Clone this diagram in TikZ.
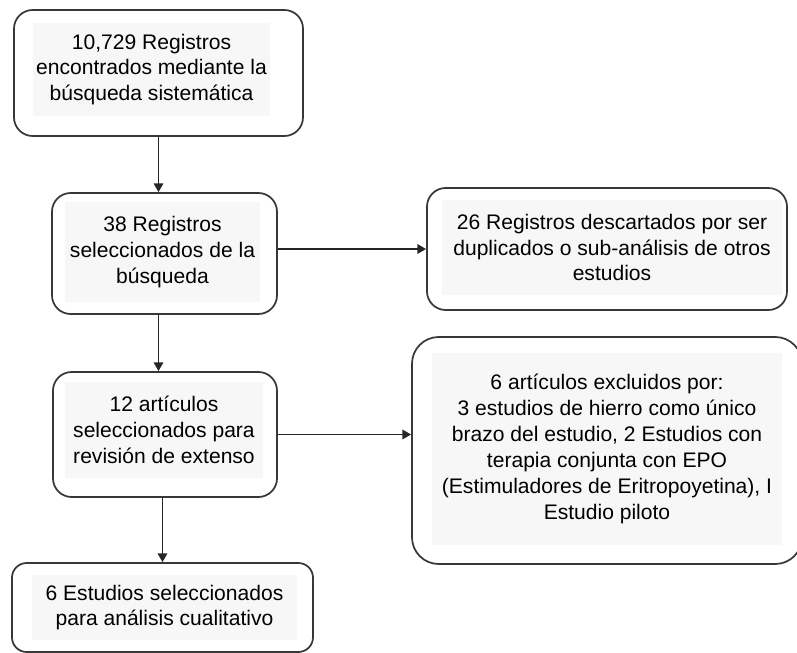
\documentclass[tikz,border=0pt]{standalone}
\usepackage{fontspec}
\setmainfont{Liberation Sans}
\usepackage{tikz}
\usetikzlibrary{arrows.meta}

\begin{document}
\begin{tikzpicture}[x=0.75pt,y=-0.75pt,
  caja/.style={draw=black!78,line width=1.3pt,rounded corners=14pt,inner sep=0pt},
  fondo/.style={fill=black!3,inner sep=0pt,align=center,font=\fontsize{15.8}{19.4}\selectfont},
  flecha/.style={draw=black!85,line width=1.4pt,-{Triangle[length=6.5pt,width=7pt]}}]
\useasboundingbox (0,0) rectangle (797,653);
\node [caja,minimum width=216.75pt,minimum height=94.5pt] (b1) at (158.5,73) {};
\node [caja,minimum width=168.75pt,minimum height=90.75pt] (b2) at (164.5,253.5) {};
\node [caja,minimum width=270pt,minimum height=91.5pt] (b3) at (607,249) {};
\node [caja,minimum width=168pt,minimum height=93.75pt] (b4) at (165,434.5) {};
\node [caja,rounded corners=20pt,minimum width=292.5pt,minimum height=170.25pt] (b5) at (607,450.5) {};
\node [caja,rounded corners=11pt,minimum width=225.75pt,minimum height=66.75pt] (b6) at (162.5,607.5) {};
\node [fondo,minimum width=177.75pt,minimum height=69.75pt] (t1) at (151.5,69.5) {10,729 Registros\\encontrados mediante la\\búsqueda sistemática};
\node [fondo,minimum width=146.25pt,minimum height=75pt] (t2) at (162.5,252) {38 Registros\\seleccionados de la\\búsqueda};
\node [fondo,minimum width=255pt,minimum height=71.25pt] (t3) at (612,247.5) {26 Registros descartados por ser\\duplicados o sub-análisis de otros\\estudios};
\node [fondo,minimum width=148.5pt,minimum height=72pt] (t4) at (164,430) {12 artículos\\seleccionados para\\revisión de extenso};
\node [fondo,minimum width=262.5pt,minimum height=144pt] (t5) at (607,449) {6 artículos excluidos por:\\3 estudios de hierro como único\\brazo del estudio, 2 Estudios con\\terapia conjunta con EPO\\(Estimuladores de Eritropoyetina), I\\Estudio piloto};
\node [fondo,minimum width=198.75pt,minimum height=48.75pt] (t6) at (164.5,607.5) {6 Estudios seleccionados\\para análisis cualitativo};
\draw [flecha] (b1.south) -- (b1.south |- b2.north);
\draw [flecha] (b2.south -| b1.south) -- (b1.south |- b4.north);
\draw [flecha] (b4.south -| b6.north) -- (b6.north);
\draw [flecha] (b2.east |- b3.west) -- (b3.west);
\draw [flecha] (b4.east) -- (b4.east -| b5.west);
\end{tikzpicture}
\end{document}
